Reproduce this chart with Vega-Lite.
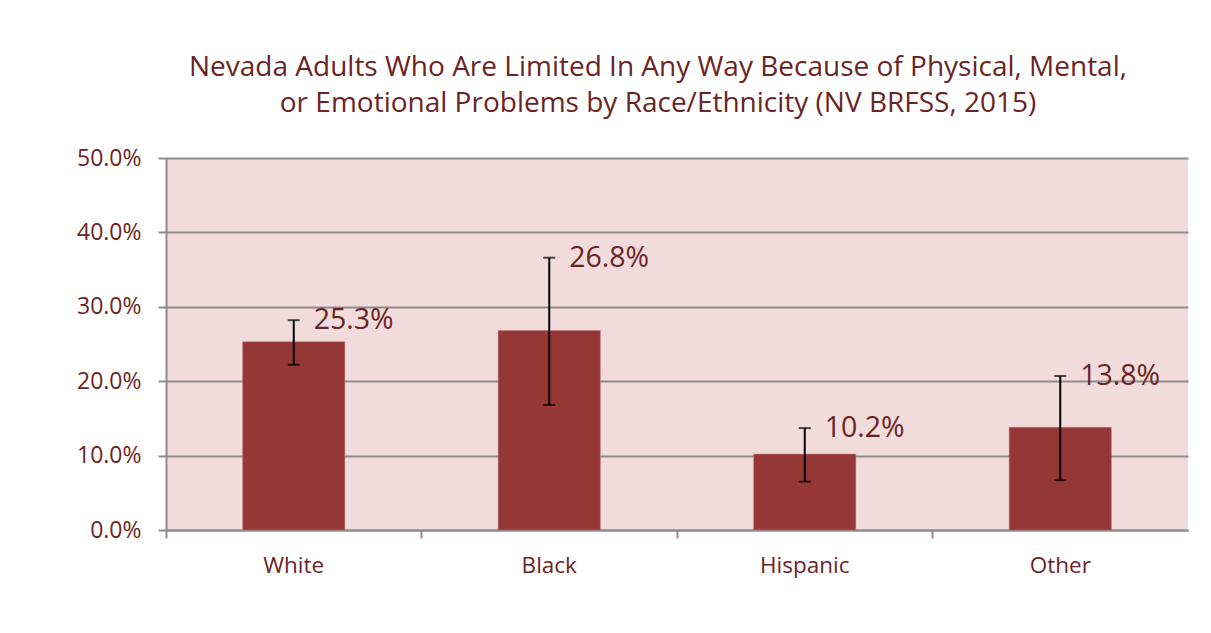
{
  "$schema": "https://vega.github.io/schema/vega-lite/v6.json",
  "width": 1022,
  "height": 372,
  "autosize": "none",
  "padding": {"left": 166, "top": 158, "right": 23, "bottom": 103},
  "background": "white",
  "title": {
    "text": ["Nevada Adults Who Are Limited In Any Way Because of Physical, Mental,", "or Emotional Problems by Race/Ethnicity (NV BRFSS, 2015)"],
    "font": "Open Sans",
    "fontSize": 28,
    "fontWeight": "normal",
    "color": "#6b2426",
    "lineHeight": 36,
    "offset": 29,
    "dx": -19
  },
  "data": {
    "values": [
      {"group": "White", "pct": 0.253, "lo": 0.222, "hi": 0.282, "label": "25.3%"},
      {"group": "Black", "pct": 0.268, "lo": 0.168, "hi": 0.366, "label": "26.8%"},
      {"group": "Hispanic", "pct": 0.102, "lo": 0.065, "hi": 0.137, "label": "10.2%"},
      {"group": "Other", "pct": 0.138, "lo": 0.067, "hi": 0.207, "label": "13.8%"}
    ]
  },
  "encoding": {
    "x": {
      "field": "group", "type": "nominal", "sort": null, "title": null,
      "scale": {"paddingInner": 0, "paddingOuter": 0},
      "axis": {
        "labelAngle": 0, "labelFont": "Open Sans", "labelFontSize": 22.5, "labelColor": "#6b2426",
        "labelPadding": 16, "domainColor": "#8c8c8c", "domainWidth": 2,
        "tickColor": "#8c8c8c", "tickWidth": 2, "tickSize": 8, "bandPosition": 0
      }
    }
  },
  "layer": [
    {
      "mark": {"type": "bar", "color": "#953735", "stroke": "#c0777a", "strokeWidth": 0.5, "width": {"band": 0.4}},
      "encoding": {
        "y": {
          "field": "pct", "type": "quantitative", "title": null,
          "scale": {"domain": [0, 0.5]},
          "axis": {
            "values": [0, 0.1, 0.2, 0.3, 0.4, 0.5], "format": ".1%",
            "labelFont": "Open Sans", "labelFontSize": 23, "labelColor": "#6b2426", "labelPadding": 17,
            "domainColor": "#8c8c8c", "domainWidth": 2,
            "tickColor": "#8c8c8c", "tickWidth": 2, "tickSize": 8,
            "grid": true, "gridColor": "#8c8c8c", "gridWidth": 2
          }
        }
      }
    },
    {
      "mark": {"type": "rule", "color": "black", "strokeWidth": 2},
      "encoding": {"y": {"field": "lo", "type": "quantitative"}, "y2": {"field": "hi"}}
    },
    {
      "mark": {"type": "tick", "color": "black", "thickness": 2, "size": 12, "orient": "horizontal"},
      "encoding": {"y": {"field": "lo", "type": "quantitative"}}
    },
    {
      "mark": {"type": "tick", "color": "black", "thickness": 2, "size": 12, "orient": "horizontal"},
      "encoding": {"y": {"field": "hi", "type": "quantitative"}}
    },
    {
      "mark": {"type": "text", "font": "Open Sans", "fontSize": 28.5, "color": "#6b2426", "align": "left", "baseline": "middle", "dx": 20},
      "encoding": {"y": {"field": "hi", "type": "quantitative"}, "text": {"field": "label"}}
    }
  ],
  "config": {
    "view": {"fill": "#f2dcdb", "stroke": null}
  }
}
